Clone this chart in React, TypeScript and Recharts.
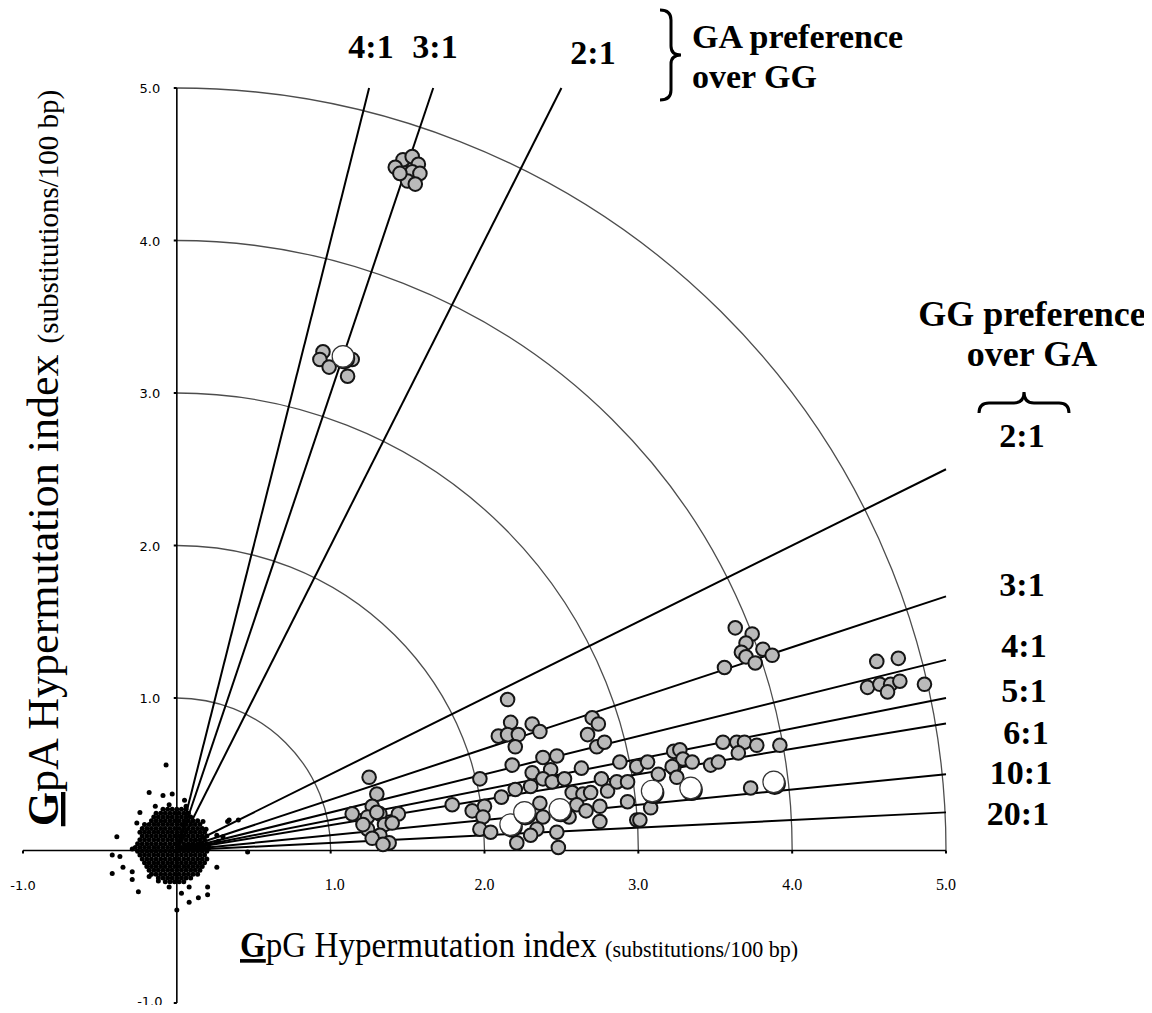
import React from 'react';
import {
  ScatterChart,
  Scatter,
  XAxis,
  YAxis,
  ReferenceLine,
  ReferenceArea,
  ReferenceDot,
} from 'recharts';

// ---------- data (GpG index, GpA index), substitutions / 100 bp ----------
const GRAY_POINTS: [number, number][] = [
  // top cluster on the 3:1 (GA) ray
  [1.47, 4.53], [1.53, 4.55], [1.57, 4.5], [1.42, 4.48], [1.53, 4.45],
  [1.58, 4.44], [1.5, 4.39], [1.55, 4.37], [1.45, 4.44],
  // cluster near (1.0, 3.2)
  [0.95, 3.27], [0.93, 3.22], [0.99, 3.17], [1.11, 3.11], [1.14, 3.22],
  // cluster near x = 1.3
  [1.25, 0.48], [1.3, 0.37], [1.27, 0.29], [1.14, 0.24], [1.24, 0.22],
  [1.32, 0.24], [1.44, 0.24], [1.35, 0.17], [1.4, 0.18], [1.24, 0.14],
  [1.32, 0.1], [1.27, 0.08], [1.38, 0.05], [1.34, 0.04], [1.21, 0.17], [1.3, 0.25],
  // cluster x = 1.8 - 2.3
  [2.15, 0.99], [2.17, 0.84], [2.09, 0.75], [2.15, 0.76], [2.22, 0.76],
  [2.2, 0.68], [2.18, 0.56], [1.97, 0.47], [1.79, 0.3], [1.92, 0.26],
  [2.0, 0.29], [1.99, 0.22], [1.97, 0.14], [2.04, 0.12], [2.11, 0.35],
  [2.2, 0.4], [2.21, 0.05],
  // cluster x = 2.3 - 3.2
  [2.31, 0.83], [2.36, 0.78], [2.7, 0.87], [2.74, 0.83], [2.67, 0.76],
  [2.73, 0.68], [2.78, 0.71], [2.38, 0.61], [2.47, 0.62], [2.63, 0.54],
  [2.31, 0.51], [2.43, 0.53], [2.38, 0.47], [2.44, 0.45], [2.3, 0.42],
  [2.36, 0.31], [2.38, 0.22], [2.34, 0.14], [2.3, 0.1], [2.47, 0.12],
  [2.48, 0.02], [2.57, 0.38], [2.64, 0.37], [2.69, 0.38], [2.76, 0.47],
  [2.8, 0.39], [2.86, 0.45], [2.75, 0.29], [2.75, 0.19], [2.88, 0.58],
  [2.99, 0.55], [3.06, 0.58], [2.93, 0.45], [2.93, 0.32], [2.99, 0.2],
  [3.08, 0.28], [3.13, 0.5], [3.23, 0.65], [3.23, 0.54], [2.52, 0.47],
  [2.6, 0.3], [2.66, 0.26], [2.55, 0.22],
  // cluster near (3.7, 1.3)
  [3.63, 1.46], [3.74, 1.42], [3.7, 1.36], [3.67, 1.3], [3.7, 1.27],
  [3.76, 1.23], [3.81, 1.32], [3.87, 1.28], [3.56, 1.2],
  // cluster near (4.6, 1.1)
  [4.55, 1.24], [4.69, 1.26], [4.49, 1.07], [4.57, 1.09], [4.64, 1.09],
  [4.62, 1.04], [4.7, 1.11], [4.86, 1.09],
  // cluster x = 3.0 - 3.9, y = 0.2 - 0.7
  [3.55, 0.71], [3.64, 0.71], [3.69, 0.71], [3.77, 0.69], [3.65, 0.64],
  [3.92, 0.69], [3.27, 0.66], [3.29, 0.6], [3.35, 0.58], [3.47, 0.56],
  [3.52, 0.58], [3.22, 0.55], [3.25, 0.48], [3.73, 0.41], [3.01, 0.2],
];

const WHITE_POINTS: [number, number][] = [
  [1.08, 3.24], [2.17, 0.17], [2.26, 0.25], [2.49, 0.27], [3.09, 0.39], [3.34, 0.41], [3.88, 0.45],
];

// dense cloud of control sequences around the origin, read row by row
const CLOUD_ROWS: [number, number[]][] = [
  [0.27, [-0.09, -0.06, -0.03, 0, 0.03, 0.06]],
  [0.245, [-0.135, -0.105, -0.075, -0.045, -0.015, 0.015, 0.045, 0.075]],
  [0.22, [-0.15, -0.12, -0.09, -0.06, -0.03, 0, 0.03, 0.06, 0.09]],
  [0.195, [-0.165, -0.135, -0.105, -0.075, -0.045, -0.015, 0.015, 0.045, 0.075, 0.105, 0.135]],
  [0.17, [-0.21, -0.18, -0.15, -0.12, -0.09, -0.06, -0.03, 0, 0.03, 0.06, 0.09, 0.12, 0.15]],
  [0.145, [-0.225, -0.195, -0.165, -0.135, -0.105, -0.075, -0.045, -0.015, 0.015, 0.045, 0.075, 0.105, 0.135, 0.165]],
  [0.12, [-0.24, -0.21, -0.18, -0.15, -0.12, -0.09, -0.06, -0.03, 0, 0.03, 0.06, 0.09, 0.12, 0.15, 0.18]],
  [0.095, [-0.225, -0.195, -0.165, -0.135, -0.105, -0.075, -0.045, -0.015, 0.015, 0.045, 0.075, 0.105, 0.135, 0.165, 0.195]],
  [0.07, [-0.24, -0.21, -0.18, -0.15, -0.12, -0.09, -0.06, -0.03, 0, 0.03, 0.06, 0.09, 0.12, 0.15, 0.18]],
  [0.045, [-0.255, -0.225, -0.195, -0.165, -0.135, -0.105, -0.075, -0.045, -0.015, 0.015, 0.045, 0.075, 0.105, 0.135, 0.165, 0.195]],
  [0.02, [-0.27, -0.24, -0.21, -0.18, -0.15, -0.12, -0.09, -0.06, -0.03, 0, 0.03, 0.06, 0.09, 0.12, 0.15, 0.18, 0.21]],
  [-0.005, [-0.255, -0.225, -0.195, -0.165, -0.135, -0.105, -0.075, -0.045, -0.015, 0.015, 0.045, 0.075, 0.105, 0.135, 0.165, 0.195]],
  [-0.03, [-0.24, -0.21, -0.18, -0.15, -0.12, -0.09, -0.06, -0.03, 0, 0.03, 0.06, 0.09, 0.12, 0.15, 0.18]],
  [-0.055, [-0.225, -0.195, -0.165, -0.135, -0.105, -0.075, -0.045, -0.015, 0.015, 0.045, 0.075, 0.105, 0.135, 0.165, 0.195]],
  [-0.08, [-0.21, -0.18, -0.15, -0.12, -0.09, -0.06, -0.03, 0, 0.03, 0.06, 0.09, 0.12, 0.15, 0.18]],
  [-0.105, [-0.195, -0.165, -0.135, -0.105, -0.075, -0.045, -0.015, 0.015, 0.045, 0.075, 0.105, 0.135, 0.165]],
  [-0.13, [-0.18, -0.15, -0.12, -0.09, -0.06, -0.03, 0, 0.03, 0.06, 0.09, 0.12, 0.15]],
  [-0.155, [-0.165, -0.135, -0.105, -0.075, -0.045, -0.015, 0.015, 0.045, 0.075, 0.105, 0.135]],
  [-0.18, [-0.12, -0.09, -0.06, -0.03, 0, 0.03, 0.06, 0.09]],
  [-0.205, [-0.075, -0.045, -0.015, 0.015, 0.045]],
];

const CLOUD_OUTLIERS: [number, number][] = [
  [-0.07, 0.56], [-0.18, 0.38], [-0.09, 0.36], [-0.03, 0.37], [-0.14, 0.29],
  [-0.05, 0.3], [-0.24, 0.25], [-0.26, 0.18], [-0.39, 0.09], [-0.42, -0.03],
  [-0.37, -0.04], [-0.29, 0.01], [-0.42, -0.15], [-0.35, -0.11], [-0.29, -0.14],
  [-0.29, -0.19], [-0.25, -0.27], [-0.18, -0.17], [-0.12, -0.2], [-0.05, -0.24],
  [0.03, -0.28], [0.08, -0.24], [0.14, -0.31], [0.08, -0.34], [0.2, -0.24],
  [0.2, -0.29], [0.0, -0.39], [0.17, 0.19], [0.19, 0.14], [0.26, 0.1],
  [0.27, 0.06], [0.34, 0.2], [0.46, -0.01], [0.26, -0.11], [0.05, 0.33],
  [0.06, 0.29], [0.33, 0.19], [0.4, 0.2], [0.3, 0.09],
];

const ARC_RADII = [1, 2, 3, 4, 5];
const GA_PREFERENCE_RATIOS = [4, 3, 2]; // GpA : GpG
const GG_PREFERENCE_RATIOS = [2, 3, 4, 5, 6, 10, 20]; // GpG : GpA
const AXIS_MIN = -1;
const AXIS_MAX = 5;
const X_TICKS = [-1, 1, 2, 3, 4, 5];
const Y_TICKS = [-1, 1, 2, 3, 4, 5];

// ---------- helpers ----------
const toXY = (arr: [number, number][]) => arr.map(([x, y]) => ({ x, y }));
const cloudData = [
  ...CLOUD_ROWS.flatMap(([y, xs]) => xs.map((x) => ({ x, y }))),
  ...toXY(CLOUD_OUTLIERS),
];
const grayData = toXY(GRAY_POINTS);
const whiteData = toXY(WHITE_POINTS);

const SERIF = '"Liberation Serif", "Times New Roman", serif';
const SANS = '"DejaVu Sans", Verdana, sans-serif';

const arcShape = (p: any) => {
  const { x, y, width, height } = p;
  return (
    <path
      d={`M ${x} ${y} A ${width} ${height} 0 0 1 ${x + width} ${y + height}`}
      fill="none"
      stroke="#4d4d4d"
      strokeWidth={1.3}
    />
  );
};

const cloudShape = (p: any) => <circle cx={p.cx} cy={p.cy} r={2.5} fill="#000" />;
const grayShape = (p: any) => (
  <circle cx={p.cx} cy={p.cy} r={6.8} fill="#bababa" stroke="#151515" strokeWidth={2} />
);
const whiteShape = (p: any) => (
  <g>
    <circle cx={p.cx + 1} cy={p.cy + 1.8} r={11.2} fill="#111" />
    <circle cx={p.cx} cy={p.cy} r={10.8} fill="#fff" stroke="#333" strokeWidth={1.2} />
  </g>
);

const makeTickLabel =
  (text: string, dx: number, dy: number, family: string, size: number) => (lp: any) => {
    const vb = lp && lp.viewBox ? lp.viewBox : { x: 0, y: 0, width: 0, height: 0 };
    const cx = vb.x + (vb.width || 0) / 2;
    const cy = vb.y + (vb.height || 0) / 2;
    return (
      <text x={cx + dx} y={cy + dy} textAnchor="middle" fontFamily={family} fontSize={size} fill="#000">
        {text}
      </text>
    );
  };

const boldLabel = {
  fontFamily: SERIF,
  fontWeight: 700,
  fontSize: 34,
  fill: '#000',
} as const;

export default function App() {
  return (
    <div style={{ position: 'relative', width: 1136, height: 997, overflow: 'visible' }}>
      <ScatterChart
        width={1136}
        height={1005}
        margin={{ top: 80, right: 198, bottom: 10, left: 15 }}
      >
        <XAxis type="number" dataKey="x" domain={[AXIS_MIN, AXIS_MAX]} hide allowDataOverflow />
        <YAxis type="number" dataKey="y" domain={[AXIS_MIN, AXIS_MAX]} hide allowDataOverflow />

        {ARC_RADII.map((r) => (
          <ReferenceArea key={`arc-${r}`} x1={0} x2={r} y1={0} y2={r} shape={arcShape} />
        ))}

        <ReferenceLine y={0} stroke="#000" strokeWidth={1.6} />
        <ReferenceLine x={0} stroke="#000" strokeWidth={1.6} />
        {X_TICKS.map((t) => (
          <ReferenceLine
            key={`xt-${t}`}
            segment={[{ x: t, y: 0 }, { x: t, y: -0.02 }]}
            stroke="#000"
            strokeWidth={2}
          />
        ))}
        {Y_TICKS.map((t) => (
          <ReferenceLine
            key={`yt-${t}`}
            segment={[{ x: 0, y: t }, { x: -0.02, y: t }]}
            stroke="#000"
            strokeWidth={2}
          />
        ))}

        {GA_PREFERENCE_RATIOS.map((r) => (
          <ReferenceLine
            key={`ga-${r}`}
            segment={[{ x: 0, y: 0 }, { x: AXIS_MAX / r, y: AXIS_MAX }]}
            stroke="#000"
            strokeWidth={2}
          />
        ))}
        {GG_PREFERENCE_RATIOS.map((r) => (
          <ReferenceLine
            key={`gg-${r}`}
            segment={[{ x: 0, y: 0 }, { x: AXIS_MAX, y: AXIS_MAX / r }]}
            stroke="#000"
            strokeWidth={2}
          />
        ))}

        <Scatter data={cloudData} shape={cloudShape} isAnimationActive={false} />
        <Scatter data={grayData} shape={grayShape} isAnimationActive={false} />
        <Scatter data={whiteData} shape={whiteShape} isAnimationActive={false} />

        {X_TICKS.map((t) => (
          <ReferenceDot
            key={`xl-${t}`}
            x={t}
            y={0}
            r={0}
            fill="none"
            stroke="none"
            label={{
              content: makeTickLabel(
                t.toFixed(1),
                t === 1 ? 4 : 0,
                39,
                t < 0 ? SANS : SERIF,
                t < 0 ? 13 : 16,
              ),
            }}
          />
        ))}
        {Y_TICKS.map((t) => (
          <ReferenceDot
            key={`yl-${t}`}
            x={0}
            y={t}
            r={0}
            fill="none"
            stroke="none"
            label={{ content: makeTickLabel(t.toFixed(1), -27, t < 0 ? 3 : 5, SANS, 13) }}
          />
        ))}
      </ScatterChart>

      <svg
        width={1152}
        height={1013}
        style={{ position: 'absolute', left: -8, top: -8, pointerEvents: 'none' }}
      >
        {/* GA preference ray labels */}
        <text x={371} y={58} textAnchor="middle" {...boldLabel}>4:1</text>
        <text x={435} y={58} textAnchor="middle" {...boldLabel}>3:1</text>
        <text x={593} y={64} textAnchor="middle" {...boldLabel}>2:1</text>
        <path
          d="M 660 10 Q 671 10 671 20 L 671 46 Q 671 55 681 55 Q 671 55 671 64 L 671 90 Q 671 100 660 100"
          fill="none"
          stroke="#000"
          strokeWidth={3}
        />
        <text x={692} y={48} {...boldLabel}>GA preference</text>
        <text x={692} y={88} {...boldLabel}>over GG</text>

        {/* GG preference ray labels */}
        <text x={1032} y={326} textAnchor="middle" {...boldLabel} fontSize={36}>GG preference</text>
        <text x={1032} y={366} textAnchor="middle" {...boldLabel} fontSize={36}>over GA</text>
        <path
          d="M 979 413 Q 979 403 989 403 L 1014 403 Q 1024 403 1024 392 Q 1024 403 1034 403 L 1059 403 Q 1069 403 1069 413"
          fill="none"
          stroke="#000"
          strokeWidth={3}
        />
        <text x={1022} y={447} textAnchor="middle" {...boldLabel}>2:1</text>
        <text x={1022} y={596} textAnchor="middle" {...boldLabel}>3:1</text>
        <text x={1024} y={657} textAnchor="middle" {...boldLabel}>4:1</text>
        <text x={1024} y={702} textAnchor="middle" {...boldLabel}>5:1</text>
        <text x={1026} y={744} textAnchor="middle" {...boldLabel}>6:1</text>
        <text x={1021} y={784} textAnchor="middle" {...boldLabel}>10:1</text>
        <text x={1018} y={825} textAnchor="middle" {...boldLabel}>20:1</text>

        {/* axis titles */}
        <g transform="translate(240 957) scale(0.92 1)">
          <text x={0} y={0} fontFamily={SERIF} fontSize={36} fill="#000">
            <tspan fontWeight={700} style={{ textDecoration: 'underline' }}>G</tspan>
            <tspan>pG Hypermutation index </tspan>
            <tspan fontSize={24}>(substitutions/100 bp)</tspan>
          </text>
        </g>
        <text
          x={0}
          y={0}
          transform="translate(58 458) rotate(-90)"
          textAnchor="middle"
          fontFamily={SERIF}
          fontSize={44}
          fill="#000"
        >
          <tspan fontWeight={700} style={{ textDecoration: 'underline' }}>G</tspan>
          <tspan>pA Hypermutation index </tspan>
          <tspan fontSize={29}>(substitutions/100 bp)</tspan>
        </text>
      </svg>
    </div>
  );
}
